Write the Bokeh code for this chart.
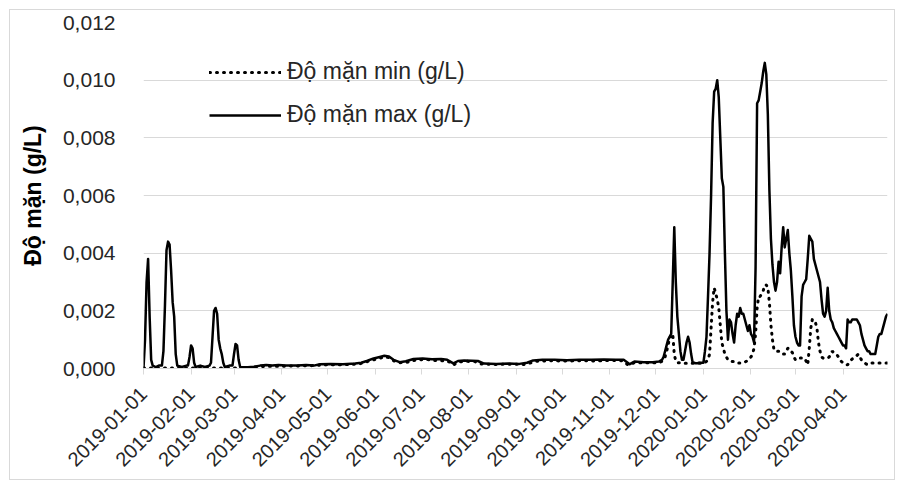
import pandas as pd
from math import pi
from bokeh.plotting import figure
from bokeh.models import (FixedTicker, CustomJSTickFormatter, Legend, LegendItem,
                          Range1d, DatetimeTickFormatter)
from bokeh.embed import file_html
from bokeh.resources import INLINE

# ---------------- data ----------------
x_tick_labels = ["2019-01-01", "2019-02-01", "2019-03-01", "2019-04-01", "2019-05-01",
                 "2019-06-01", "2019-07-01", "2019-08-01", "2019-09-01", "2019-10-01",
                 "2019-11-01", "2019-12-01", "2020-01-01", "2020-02-01", "2020-03-01",
                 "2020-04-01"]
y_ticks = [0.0, 0.002, 0.004, 0.006, 0.008, 0.010, 0.012]

# max salinity, 2019 part (sparse readings)
max_dates_2019 = [
    "2019-01-01", "2019-01-02", "2019-01-03", "2019-01-04", "2019-01-05", "2019-01-06",
    "2019-01-07", "2019-01-09", "2019-01-11", "2019-01-13", "2019-01-14", "2019-01-15",
    "2019-01-16", "2019-01-17", "2019-01-18", "2019-01-19", "2019-01-20", "2019-01-21",
    "2019-01-22", "2019-01-23", "2019-01-26", "2019-01-29", "2019-01-30", "2019-01-31",
    "2019-02-01", "2019-02-02", "2019-02-03", "2019-02-04", "2019-02-07", "2019-02-10",
    "2019-02-13", "2019-02-14", "2019-02-15", "2019-02-16", "2019-02-17", "2019-02-18",
    "2019-02-19", "2019-02-20", "2019-02-21", "2019-02-22", "2019-02-23", "2019-02-26",
    "2019-02-28", "2019-03-01", "2019-03-02", "2019-03-03", "2019-03-04", "2019-03-05",
    "2019-03-10", "2019-03-14", "2019-03-18", "2019-03-22", "2019-03-26", "2019-03-30",
    "2019-04-04", "2019-04-11", "2019-04-17", "2019-04-22", "2019-04-26", "2019-05-03",
    "2019-05-11", "2019-05-19", "2019-05-23", "2019-05-27", "2019-05-31", "2019-06-04",
    "2019-06-07", "2019-06-10", "2019-06-13", "2019-06-17", "2019-06-21", "2019-06-26",
    "2019-07-02", "2019-07-08", "2019-07-14", "2019-07-18", "2019-07-22", "2019-07-25",
    "2019-07-29", "2019-08-03", "2019-08-07", "2019-08-11", "2019-08-19", "2019-08-27",
    "2019-09-03", "2019-09-08", "2019-09-12", "2019-09-18", "2019-09-26", "2019-10-04",
    "2019-10-12", "2019-10-20", "2019-10-28", "2019-11-05", "2019-11-10", "2019-11-14",
    "2019-11-17", "2019-11-23", "2019-11-29", "2019-12-03"]
max_vals_2019 = [
    0.0, 0.0010, 0.0030, 0.0038, 0.0018, 0.0003,
    0.0001, 0.00005, 0.0001, 0.0001, 0.0006, 0.0022,
    0.0041, 0.0044, 0.0043, 0.0034, 0.0023, 0.0018,
    0.0005, 0.0001, 0.00005, 0.0001, 0.0001, 0.0004,
    0.0008, 0.0007, 0.0002, 0.00005, 0.0001, 0.00005,
    0.0001, 0.0002, 0.0011, 0.0020, 0.0021, 0.0019,
    0.0010, 0.0007, 0.0005, 0.0002, 0.00005, 0.0001,
    0.0001, 0.0005, 0.00085, 0.0008, 0.0003, 0.00005,
    0.00004, 0.00006, 0.0001, 0.00012, 0.0001, 0.00012,
    0.0001, 0.0001, 0.00012, 0.0001, 0.00015, 0.00016,
    0.00015, 0.00017, 0.0002, 0.00027, 0.00035, 0.0004,
    0.00044, 0.00042, 0.0003, 0.00022, 0.00025, 0.00033,
    0.00035, 0.00032, 0.00033, 0.0003, 0.00018, 0.00026,
    0.00028, 0.00027, 0.00026, 0.00017, 0.00016, 0.00017,
    0.00016, 0.0002, 0.00028, 0.0003, 0.0003, 0.00029,
    0.0003, 0.0003, 0.00031, 0.0003, 0.0003, 0.00015,
    0.00024, 0.00022, 0.00022, 0.00024]

# max salinity, daily readings from 2019-12-05 to 2020-04-30
max_daily_start = "2019-12-05"
max_vals_daily = [
    0.0003, 0.0004, 0.0006, 0.0008, 0.0010, 0.0011, 0.0012, 0.0030, 0.0049, 0.0030,
    0.0018, 0.0012, 0.0006, 0.0003, 0.0003, 0.0006, 0.0009, 0.0011, 0.0009, 0.0005,
    0.0002, 0.0002, 0.00018, 0.00018, 0.0002, 0.0002, 0.0002, 0.0002, 0.0006, 0.0011,
    0.0025, 0.0040, 0.0060, 0.0085, 0.0096, 0.0097, 0.0100, 0.0094, 0.0080, 0.0066,
    0.0063, 0.0040, 0.0020, 0.0010, 0.0017, 0.0016, 0.0012, 0.0009, 0.0015, 0.0019,
    0.0018, 0.0021, 0.0019, 0.0019, 0.0017, 0.0015, 0.0013, 0.0015, 0.0012, 0.0011,
    0.0009, 0.0035, 0.0092, 0.0093, 0.0096, 0.0099, 0.0103, 0.0106, 0.0102, 0.0088,
    0.0062, 0.0045, 0.0036, 0.0030, 0.0027, 0.0030, 0.0037, 0.0033, 0.0042, 0.0049,
    0.0042, 0.0045, 0.0048, 0.0040, 0.0034, 0.0025, 0.0015, 0.0011, 0.0009, 0.0008,
    0.0008, 0.0025, 0.0029, 0.0030, 0.0031, 0.0038, 0.0046, 0.0045, 0.0044, 0.0038,
    0.0036, 0.0034, 0.0032, 0.0030, 0.0024, 0.0019, 0.0018, 0.0020, 0.0028, 0.0020,
    0.0017, 0.0016, 0.0014, 0.0013, 0.0012, 0.0011, 0.0010, 0.0009, 0.0008, 0.0008,
    0.0007, 0.0017, 0.0016, 0.0016, 0.0017, 0.0017, 0.0017, 0.0017, 0.0016, 0.0015,
    0.0012, 0.0010, 0.0008, 0.0007, 0.0006, 0.0006, 0.0005, 0.0005, 0.0005, 0.0005,
    0.0008, 0.0011, 0.0012, 0.0012, 0.0014, 0.0016, 0.0018, 0.0019]

# min salinity, 2019 part (sparse readings)
min_dates_2019 = [
    "2019-01-01", "2019-01-21", "2019-02-10", "2019-03-02", "2019-03-05", "2019-03-12",
    "2019-03-22", "2019-04-01", "2019-04-11", "2019-04-21", "2019-05-01", "2019-05-11",
    "2019-05-21", "2019-05-27", "2019-06-02", "2019-06-07", "2019-06-10", "2019-06-13",
    "2019-06-17", "2019-06-22", "2019-06-28", "2019-07-05", "2019-07-10", "2019-07-15",
    "2019-07-20", "2019-07-22", "2019-07-25", "2019-07-30", "2019-08-05", "2019-08-09",
    "2019-08-19", "2019-08-29", "2019-09-06", "2019-09-10", "2019-09-14", "2019-09-23",
    "2019-10-03", "2019-10-13", "2019-10-23", "2019-11-02", "2019-11-09", "2019-11-13",
    "2019-11-17", "2019-11-27", "2019-12-03"]
min_vals_2019 = [
    0.00002, 0.00002, 0.00002, 0.00002, 0.00003, 0.00004,
    0.00008, 0.00008, 0.00009, 0.0001, 0.00013, 0.00013,
    0.00015, 0.00024, 0.00033, 0.0004, 0.00038, 0.00027,
    0.0002, 0.00022, 0.0003, 0.00031, 0.00028, 0.00027,
    0.00022, 0.00012, 0.00022, 0.00025, 0.00024, 0.00016,
    0.00014, 0.00015, 0.00014, 0.00019, 0.00025, 0.00027,
    0.00026, 0.00027, 0.00026, 0.00028, 0.00027, 0.00012,
    0.0002, 0.0002, 0.0002]

# min salinity, daily readings from 2019-12-05 to 2020-04-30
min_daily_start = "2019-12-05"
min_vals_daily = [
    0.00025, 0.0003, 0.0004, 0.0006, 0.0008, 0.0011, 0.0011, 0.0012, 0.0005, 0.00025,
    0.0002, 0.0002, 0.0002, 0.00019, 0.00018, 0.00018, 0.00018, 0.00018, 0.00018, 0.00018,
    0.00018, 0.00018, 0.00018, 0.00018, 0.00018, 0.00018, 0.00018, 0.00018, 0.0002, 0.00025,
    0.0003, 0.0005, 0.0014, 0.0023, 0.0028, 0.0026, 0.0024, 0.0021, 0.0015, 0.0009,
    0.0007, 0.0005, 0.0004, 0.0003, 0.00028, 0.00025, 0.00024, 0.00024, 0.0002, 0.0002,
    0.00019, 0.00019, 0.00019, 0.0002, 0.00022, 0.00025, 0.0003, 0.00035, 0.0004, 0.0005,
    0.0007, 0.0012, 0.0021, 0.0025, 0.0025, 0.0026, 0.0027, 0.0029, 0.0029, 0.0028,
    0.0023, 0.0015, 0.0010, 0.00065, 0.0006, 0.0006, 0.0006, 0.0006, 0.00055, 0.0005,
    0.0005, 0.0006, 0.0007, 0.0007, 0.0006, 0.00055, 0.0004, 0.0003, 0.0003, 0.00035,
    0.00036, 0.00036, 0.00036, 0.00036, 0.00025, 0.00013, 0.0007, 0.0014, 0.0017, 0.0017,
    0.0016, 0.0014, 0.0009, 0.0006, 0.0004, 0.00036, 0.00036, 0.00036, 0.00036, 0.0004,
    0.0005, 0.0006, 0.00055, 0.0005, 0.00048, 0.0004, 0.0003, 0.00024, 0.0002, 0.00016,
    0.00013, 0.00013, 0.0002, 0.00028, 0.00033, 0.00036, 0.0004, 0.00045, 0.0005, 0.0004,
    0.0003, 0.00024, 0.0002, 0.00016, 0.00013, 0.00015, 0.00017, 0.00019, 0.00019, 0.00019,
    0.00019, 0.00019, 0.00019, 0.00019, 0.00019, 0.00019, 0.00019, 0.00019]

series_labels = ["Độ mặn min (g/L)", "Độ mặn max (g/L)"]
y_title = "Độ mặn (g/L)"
x_start, x_end = "2019-01-01", "2020-04-30"

# ---------------- build series ----------------
max_x = list(pd.to_datetime(max_dates_2019)) + list(
    pd.date_range(max_daily_start, periods=len(max_vals_daily), freq="D"))
max_y = max_vals_2019 + max_vals_daily
min_x = list(pd.to_datetime(min_dates_2019)) + list(
    pd.date_range(min_daily_start, periods=len(min_vals_daily), freq="D"))
min_y = min_vals_2019 + min_vals_daily

FONT = "Liberation Sans"
TXT = "#262626"
GRID = "#d9d9d9"

p = figure(width=886, height=471, x_axis_type="datetime",
           output_backend="svg", toolbar_location=None,
           x_range=Range1d(pd.Timestamp(x_start), pd.Timestamp(x_end)),
           y_range=Range1d(0, 0.012),
           min_border_left=133, min_border_right=9,
           min_border_top=12, min_border_bottom=113)
p.styles = {"border": "1px solid #d9d9d9", "margin-left": "9px", "margin-top": "9px"}
p.outline_line_color = None
p.background_fill_color = "white"
p.border_fill_color = "white"

r_min = p.line(min_x, min_y, line_color="black", line_width=3,
               line_dash="1 6", line_cap="round")
r_max = p.line(max_x, max_y, line_color="black", line_width=2.5,
               line_join="round")

# grid
p.xgrid.visible = False
p.ygrid.grid_line_color = GRID
p.ygrid.grid_line_width = 1

# y axis
p.yaxis.ticker = FixedTicker(ticks=y_ticks)
p.yaxis.formatter = CustomJSTickFormatter(code="return tick.toFixed(3).replace('.', ',');")
p.yaxis.axis_line_color = None
p.yaxis.major_tick_line_color = None
p.yaxis.minor_tick_line_color = None
p.yaxis.major_label_text_font = FONT
p.yaxis.major_label_text_font_size = "21px"
p.yaxis.major_label_text_color = TXT
p.yaxis.major_label_standoff = 22
p.yaxis.axis_label = y_title
p.yaxis.axis_label_text_font = FONT
p.yaxis.axis_label_text_font_size = "23px"
p.yaxis.axis_label_text_font_style = "bold"
p.yaxis.axis_label_text_color = "black"
p.yaxis.axis_label_standoff = 14

# x axis
p.xaxis.ticker = FixedTicker(ticks=[pd.Timestamp(s).timestamp() * 1000 for s in x_tick_labels])
fmt = "%Y-%m-%d"
p.xaxis.formatter = DatetimeTickFormatter(
    microseconds=fmt, milliseconds=fmt, seconds=fmt, minsec=fmt, minutes=fmt,
    hourmin=fmt, hours=fmt, days=fmt, months=fmt, years=fmt)
p.xaxis.major_label_orientation = pi / 4
p.xaxis.axis_line_color = GRID
p.xaxis.major_tick_line_color = GRID
p.xaxis.major_tick_in = 0
p.xaxis.major_tick_out = 6
p.xaxis.minor_tick_line_color = None
p.xaxis.major_label_text_font = FONT
p.xaxis.major_label_text_font_size = "20px"
p.xaxis.major_label_text_color = TXT
p.xaxis.major_label_standoff = 16

legend = Legend(items=[LegendItem(label=series_labels[0], renderers=[r_min]),
                       LegendItem(label=series_labels[1], renderers=[r_max])],
                location=(66, 240))
legend.background_fill_alpha = 0
legend.border_line_color = None
legend.padding = 0
legend.margin = 0
legend.spacing = 16
legend.glyph_width = 72
legend.glyph_height = 24
legend.label_height = 24
legend.label_standoff = 6
legend.label_text_font = FONT
legend.label_text_font_size = "23px"
legend.label_text_color = TXT
p.add_layout(legend)

open("out.html", "w").write(file_html(p, INLINE))
